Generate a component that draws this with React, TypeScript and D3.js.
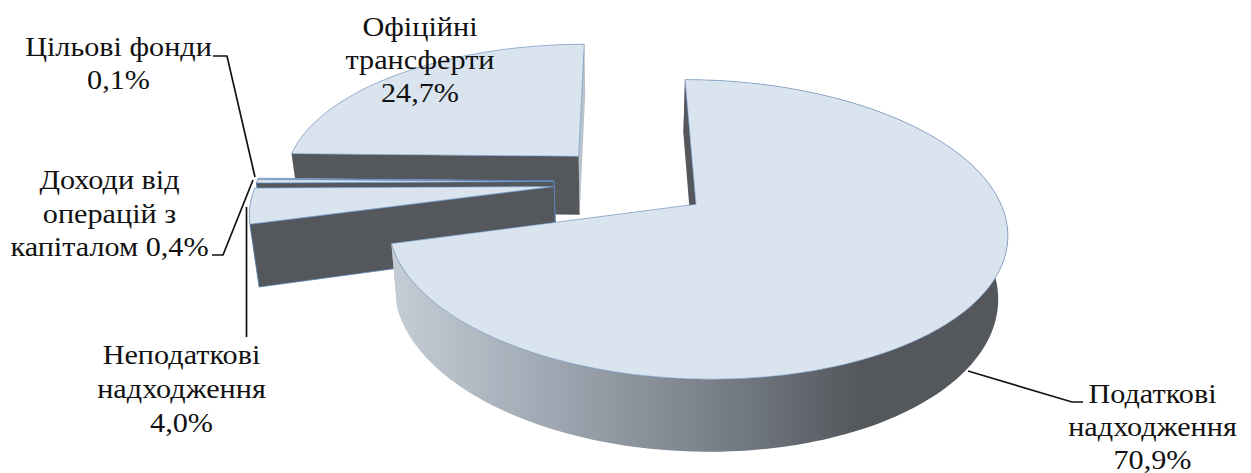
import React from "react";
import * as d3 from "d3";

// Budget revenue structure, percent
const categories = ["Податкові надходження", "Неподаткові надходження", "Доходи від операцій з капіталом", "Цільові фонди", "Офіційні трансферти"];
const shares = [70.9, 4.0, 0.4, 0.1, 24.7];
const paintOrder = [4, 3, 2, 1, 0];

const labelLines = [
  { anchor: 1152.5, base: 402.5, gap: 33, lines: ["Податкові", "надходження", "70,9%"] },
  { anchor: 181.5, base: 363.5, gap: 34, lines: ["Неподаткові", "надходження", "4,0%"] },
  { anchor: 109.5, base: 189, gap: 33.5, lines: ["Доходи від", "операцій з", "капіталом 0,4%"] },
  { anchor: 118.5, base: 56, gap: 33, lines: ["Цільові фонди", "0,1%"] },
  { anchor: 420, base: 36, gap: 33, lines: ["Офіційні", "трансферти", "24,7%"] },
];
const leaders: [number, number][][] = [
  [[968, 371], [1072, 402], [1083, 402]],
  [[246.5, 207], [246.5, 337]],
  [[212, 255], [223, 255], [253, 180]],
  [[213, 56], [227, 56], [255, 177]],
];

// Oblique projection of the pie plane with a mild perspective
const view = { cx: 632, cy: 181.5, a: 297, b: -2, c: 138, k: 0.164, explode: 0.263, depth: 60, vanishX: 620, converge: 0.025 };
const topPoint = (u: number, v: number): [number, number] => {
  const w = 1 + view.k * v;
  return [view.cx + (view.a * u + view.b * v) / w, view.cy - (view.c * v) / w];
};
const dropPoint = (u: number, v: number): [number, number] => {
  const [x, y] = topPoint(u, v);
  const w = 1 + view.k * v;
  return [x + (view.vanishX - x) * view.converge, y + view.depth / Math.pow(w, 0.9)];
};

const pie = d3.pie<number>().value((d) => d).sort(null);
const arcs = pie(shares);
const outline = d3.line();
const closed = (pts: [number, number][]) => (outline(pts) ?? "") + "Z";

const slices = arcs.map((arc) => {
  const mid = (arc.startAngle + arc.endAngle) / 2;
  const ox = view.explode * Math.sin(mid);
  const oy = view.explode * Math.cos(mid);
  const steps = Math.max(2, Math.ceil((arc.endAngle - arc.startAngle) * 40));
  const angle = d3.scaleLinear().domain([0, steps]).range([arc.startAngle, arc.endAngle]);
  const rim = d3.range(steps + 1).map((i) => [ox + Math.sin(angle(i)), oy + Math.cos(angle(i))] as [number, number]);
  const centre: [number, number] = [ox, oy];
  const first = rim[0];
  const last = rim[rim.length - 1];
  const project = (f: typeof topPoint) => (p: [number, number]) => f(p[0], p[1]);
  return {
    top: closed([centre, ...rim].map(project(topPoint))),
    rimWall: closed([...rim.map(project(topPoint)), ...rim.slice().reverse().map(project(dropPoint))]),
    startWall: closed([topPoint(...centre), topPoint(...first), dropPoint(...first), dropPoint(...centre)]),
    endWall: closed([topPoint(...centre), topPoint(...last), dropPoint(...last), dropPoint(...centre)]),
  };
});

const FACE = "#d9e4ef";
const DARK = "#54585d";
const EDGE = "#5b85b8";
const FONT = "'Liberation Serif', 'Times New Roman', serif";

export default function App() {
  return (
    <svg width={1251} height={473} style={{ position: "absolute", left: 0, top: 0, background: "#fff" }} fontFamily={FONT}>
      <defs>
        <linearGradient id="rimShade" gradientUnits="userSpaceOnUse" x1={395} x2={860} y1={0} y2={0}>
          <stop offset="0" stopColor="#c4ccd6" />
          <stop offset="0.38" stopColor="#9aa2ad" />
          <stop offset="0.66" stopColor="#7c838c" />
          <stop offset="1" stopColor={DARK} />
        </linearGradient>
      </defs>
      {paintOrder.map((i) => (
        <g key={categories[i]}>
          <path d={slices[i].endWall} fill="#b9c3ce" />
          <path d={slices[i].rimWall} fill={i === 0 ? "url(#rimShade)" : i === 4 ? "#b9c3ce" : DARK} />
          <path d={slices[i].startWall} fill={DARK} stroke={i === 0 || i === 4 ? "none" : EDGE} strokeWidth={0.8} />
          <path d={slices[i].top} fill={FACE} stroke={EDGE} strokeWidth={0.7} strokeOpacity={0.8} />
        </g>
      ))}
      {leaders.map((pts, i) => (
        <path key={i} d={outline(pts) ?? ""} fill="none" stroke="#111" strokeWidth={1.7} />
      ))}
      {labelLines.map((label) =>
        label.lines.map((line, i) => (
          <text
            key={label.anchor + line}
            transform={`translate(${label.anchor},${label.base + i * label.gap}) scale(1.14,1)`}
            textAnchor="middle"
            fontSize={26.5}
            fill="#111"
          >
            {line}
          </text>
        ))
      )}
    </svg>
  );
}
